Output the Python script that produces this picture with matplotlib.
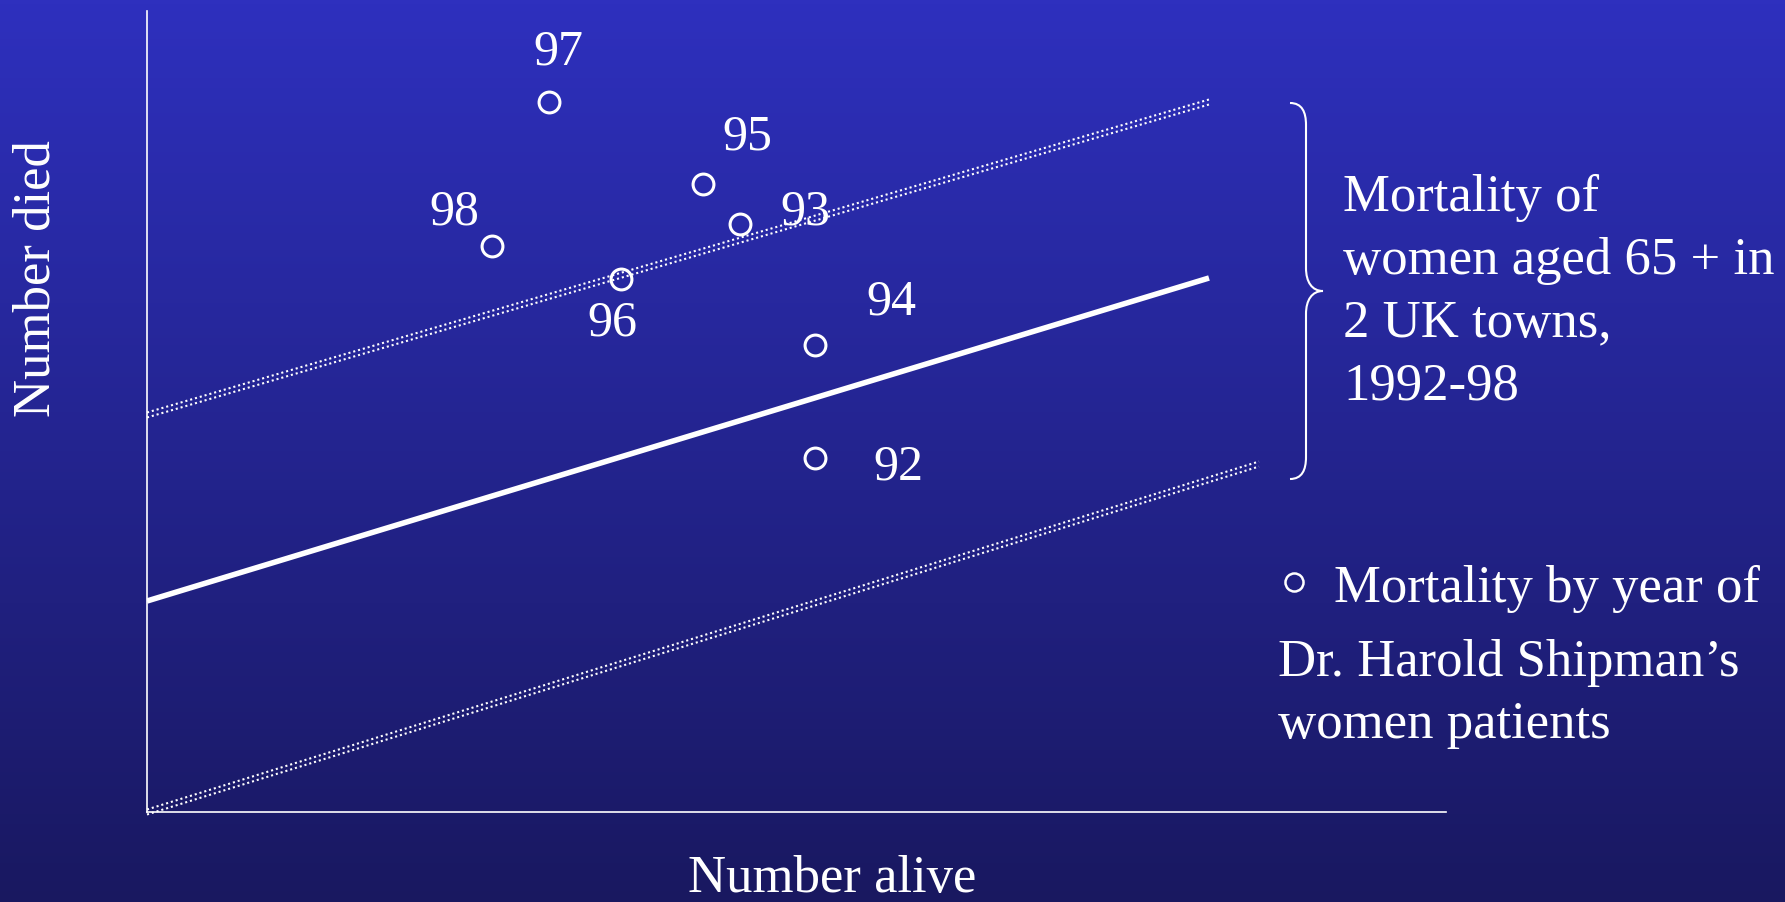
import matplotlib
matplotlib.use("Agg")
import matplotlib.pyplot as plt
import numpy as np
from matplotlib.path import Path
from matplotlib.patches import PathPatch
from matplotlib.lines import Line2D

plt.rcParams['font.family'] = ['Liberation Serif', 'DejaVu Serif']

# Shipman yearly points (arbitrary units: number alive, number died)
years = ['97', '95', '93', '98', '96', '94', '92']
alive = [40.2, 55.6, 59.3, 34.5, 47.4, 66.8, 66.8]
died = [71.0, 62.8, 58.8, 56.6, 53.3, 46.7, 35.4]
# label offsets in pixels relative to each point
label_dx = [9, 44, 65, -38, -9, 76, 83]
label_dy = [50, 47, 12, 34, -44, 43, -9]

# reference mortality line and control limits (start / end points)
mean_x = [0, 106.2]
mean_y = [21.1, 53.4]
upper_x = [0, 106.2]
upper_y = [39.7, 71.0]
lower_x = [0, 111.2]
lower_y = [0, 34.8]

W, H = 1785, 902
fig = plt.figure(figsize=(W / 100, H / 100), dpi=100)

# gradient background
bg = fig.add_axes([0, 0, 1, 1])
top = np.array([46, 48, 190]) / 255
bot = np.array([25, 24, 96]) / 255
t = np.linspace(0, 1, 256)[:, None]
grad = top[None, :] * (1 - t) + bot[None, :] * t
bg.imshow(grad[:, None, :], aspect='auto', extent=[0, 1, 0, 1])
bg.axis('off')


def px(x, y):
    return (x / W, 1 - y / H)


ax = fig.add_axes([147 / W, (H - 812) / H, (1446 - 147) / W, (812 - 11) / H])
ax.set_facecolor('none')
ax.set_xlim(0, 129.9)
ax.set_ylim(0, 80.1)
for s in ['top', 'right']:
    ax.spines[s].set_visible(False)
for s in ['left', 'bottom']:
    ax.spines[s].set_color('white')
    ax.spines[s].set_linewidth(1.2)
ax.set_xticks([])
ax.set_yticks([])

# solid mean line
ax.plot(mean_x, mean_y, color='white', lw=4, solid_capstyle='butt')

# double dotted control limits
for xs, ys in [(upper_x, upper_y), (lower_x, lower_y)]:
    for off in (-0.25, 0.25):
        ax.plot(xs, np.array(ys) + off, color='white', lw=1.5,
                linestyle=(0, (1, 1.4)), clip_on=False)

ax.plot(alive, died, 'o', markersize=15, markerfacecolor='none',
        markeredgecolor='white', markeredgewidth=2.2, clip_on=False)

for yr, x, y, dx, dy in zip(years, alive, died, label_dx, label_dy):
    ax.annotate(yr, (x, y), xytext=(dx, dy), textcoords='offset pixels',
                ha='center', va='center', color='white', fontsize=36)

# axis titles
fig.text(*px(37, 279), 'Number died', rotation=90, ha='center', va='center',
         color='white', fontsize=38)
fig.text(*px(832, 879), 'Number alive', ha='center', va='center',
         color='white', fontsize=38)

# brace
verts = [px(1290, 103), px(1302, 103), px(1306, 112), px(1306, 125),
         px(1306, 268),
         px(1306, 282), px(1312, 291), px(1323, 291),
         px(1312, 291), px(1306, 300), px(1306, 314),
         px(1306, 457),
         px(1306, 470), px(1302, 479), px(1290, 479)]
codes = [Path.MOVETO, Path.CURVE4, Path.CURVE4, Path.CURVE4,
         Path.LINETO,
         Path.CURVE4, Path.CURVE4, Path.CURVE4,
         Path.CURVE4, Path.CURVE4, Path.CURVE4,
         Path.LINETO,
         Path.CURVE4, Path.CURVE4, Path.CURVE4]
fig.add_artist(PathPatch(Path(verts, codes), facecolor='none',
                         edgecolor='white', lw=1.5, transform=fig.transFigure))

fig.text(*px(1343, 292), 'Mortality of\nwomen aged 65 + in\n2 UK towns,\n1992-98',
         ha='left', va='center', color='white', fontsize=38, linespacing=1.4)

# legend entry
fig.add_artist(Line2D([1294 / W], [1 - 582 / H], marker='o', markersize=13,
                      markerfacecolor='none', markeredgecolor='white',
                      markeredgewidth=1.8, transform=fig.transFigure))
fig.text(*px(1334, 589), 'Mortality by year of', ha='left', va='center',
         color='white', fontsize=38)
fig.text(*px(1278, 694), 'Dr. Harold Shipman\u2019s\nwomen patients',
         ha='left', va='center', color='white', fontsize=38, linespacing=1.4)

fig.savefig('out.png', dpi=100)
